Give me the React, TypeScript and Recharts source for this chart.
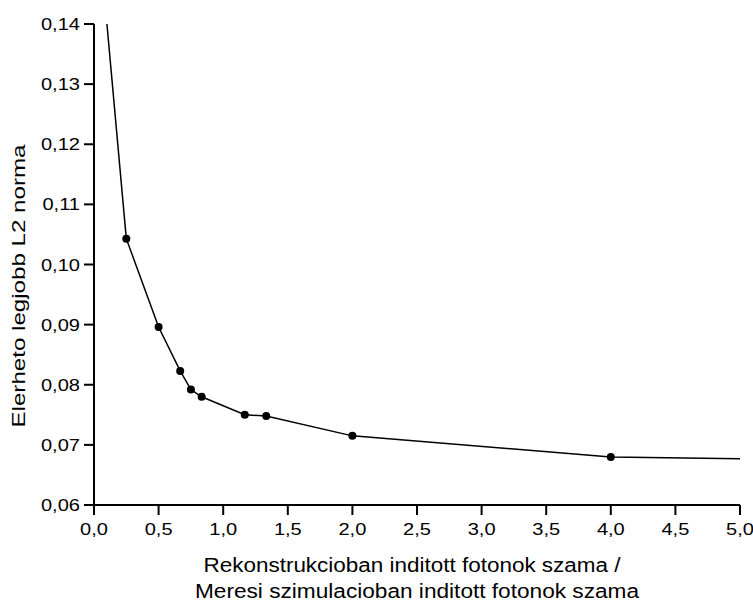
import React from 'react';
import { ComposedChart, Line, XAxis, YAxis, Label } from 'recharts';

// photon ratio (reconstruction / measurement simulation)
const ratios = [0.1, 0.25, 0.5, 0.667, 0.75, 0.833, 1.167, 1.333, 2.0, 4.0, 5.0];
// best achievable L2 norm
const norms = [0.14, 0.1043, 0.0896, 0.0823, 0.0792, 0.078, 0.075, 0.0748, 0.0715, 0.068, 0.0677];
// endpoints are drawn without a marker
const marked = [false, true, true, true, true, true, true, true, true, true, false];

const xMajor = [0, 0.5, 1, 1.5, 2, 2.5, 3, 3.5, 4, 4.5, 5];
const xMinor = [0.25, 0.75, 1.25, 1.75, 2.25, 2.75, 3.25, 3.75, 4.25, 4.75];
const yMajor = [0.06, 0.07, 0.08, 0.09, 0.1, 0.11, 0.12, 0.13, 0.14];
const yMinor = [0.065, 0.075, 0.085, 0.095, 0.105, 0.115, 0.125, 0.135];

const data = ratios.map((x, i) => ({ x, y: norms[i], mark: marked[i] }));

const FONT = '"Liberation Sans", Arial, sans-serif';
const AXIS = { stroke: '#000', strokeWidth: 2 };

const YTick = (props: any) => {
  const { x, y, payload } = props;
  const v = payload.value as number;
  return (
    <text
      x={0}
      y={0}
      transform={`translate(${x}, ${y + 6}) scale(1.18, 1)`}
      textAnchor="end"
      fontSize={17}
      fontFamily={FONT}
      fill="#000"
    >
      {v.toFixed(2).replace('.', ',')}
    </text>
  );
};

const XTick = (props: any) => {
  const { x, y, payload } = props;
  const v = payload.value as number;
  return (
    <text
      x={0}
      y={0}
      transform={`translate(${x}, ${y + 20}) scale(1.18, 1)`}
      textAnchor="middle"
      fontSize={17}
      fontFamily={FONT}
      fill="#000"
    >
      {v.toFixed(1).replace('.', ',')}
    </text>
  );
};

const NoLabel = () => <g />;

const Dot = (props: any) => {
  const { cx, cy, payload, index } = props;
  if (!payload.mark) return <g key={`d-${index}`} />;
  return <circle key={`d-${index}`} cx={cx} cy={cy} r={4} fill="#000" />;
};

const XTitle = (props: any) => {
  const { viewBox } = props;
  const cx = viewBox.x + viewBox.width / 2;
  return (
    <g fontSize={20} fontFamily={FONT} fill="#000" textAnchor="middle">
      <text x={cx - 5} y={572} textLength={417} lengthAdjust="spacingAndGlyphs">
        Rekonstrukcioban inditott fotonok szama /
      </text>
      <text x={cx} y={598} textLength={444} lengthAdjust="spacingAndGlyphs">
        Meresi szimulacioban inditott fotonok szama
      </text>
    </g>
  );
};

const YTitle = () => (
  <text
    x={0}
    y={0}
    transform="translate(25, 286) rotate(-90)"
    textAnchor="middle"
    fontSize={19}
    fontFamily={FONT}
    fill="#000"
    textLength={283}
    lengthAdjust="spacingAndGlyphs"
  >
    Elerheto legjobb L2 norma
  </text>
);

export default function App() {
  return (
    <div style={{ position: 'absolute', left: 0, top: 0, background: '#fff' }}>
      <ComposedChart width={753} height={601} data={data} margin={{ top: 24, right: 13, bottom: 0, left: 0 }}>
        {/* minor ticks: zero-size axes sitting on the plot edge */}
        <XAxis
          xAxisId="minor"
          type="number"
          domain={[0, 5]}
          ticks={xMinor}
          interval={0}
          height={0}
          tickSize={6}
          tick={<NoLabel />}
          tickLine={AXIS}
          axisLine={false}
          allowDataOverflow
        />
        <YAxis
          yAxisId="minor"
          type="number"
          domain={[0.06, 0.14]}
          ticks={yMinor}
          interval={0}
          width={0}
          tickSize={5}
          tick={<NoLabel />}
          tickLine={AXIS}
          axisLine={false}
          allowDataOverflow
        />
        <XAxis
          dataKey="x"
          type="number"
          domain={[0, 5]}
          ticks={xMajor}
          interval={0}
          height={96}
          tickSize={10}
          tickMargin={0}
          tickLine={AXIS}
          tick={<XTick />}
          axisLine={AXIS}
          allowDataOverflow
        >
          <Label content={<XTitle />} position="bottom" />
        </XAxis>
        <YAxis
          type="number"
          domain={[0.06, 0.14]}
          ticks={yMajor}
          interval={0}
          width={94}
          tickSize={10}
          tickMargin={4}
          tickLine={AXIS}
          tick={<YTick />}
          axisLine={AXIS}
          allowDataOverflow
        >
          <Label content={<YTitle />} position="left" />
        </YAxis>
        <Line
          type="linear"
          dataKey="y"
          stroke="#000"
          strokeWidth={1.5}
          dot={<Dot />}
          activeDot={false}
          isAnimationActive={false}
        />
      </ComposedChart>
    </div>
  );
}
